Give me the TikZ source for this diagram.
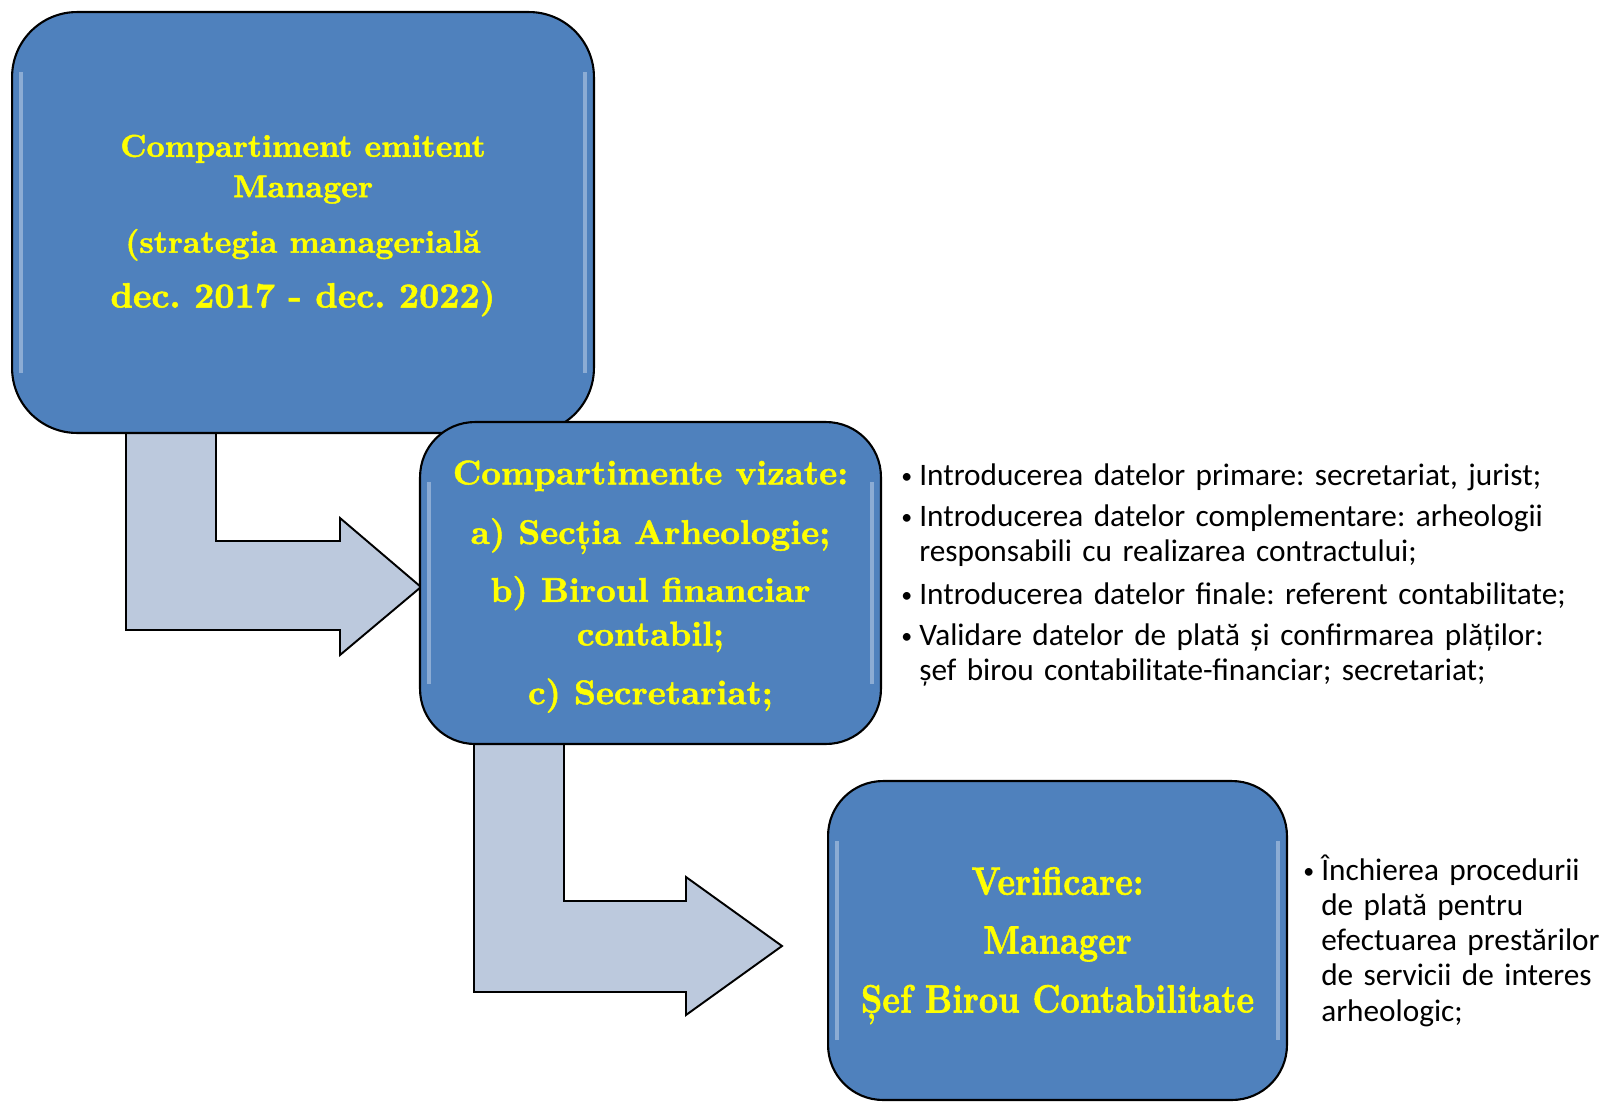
\documentclass[tikz,border=0pt]{standalone}
\usepackage{fontspec}
\usepackage{graphicx}
\newfontfamily\calib{Carlito}
\newfontfamily\heavy{lmroman10-bold.otf}[FakeBold=1.5]
\tikzset{>=latex}
\pgfdeclarelayer{background}
\pgfsetlayers{background,main}
\definecolor{boxblue}{HTML}{4F81BD}
\definecolor{arrowgray}{HTML}{BCC9DD}
\definecolor{txtyellow}{HTML}{FFFF00}
\frenchspacing
\newcommand{\cond}[1]{\scalebox{.85}[1]{#1}}
\newcommand{\bul}[1]{\par\noindent\makebox[10.2pt][l]{\raisebox{1.4pt}{\scalebox{.7}{•}}}\begin{tabular}[t]{@{}l@{}}#1\end{tabular}}

\begin{document}
\begin{tikzpicture}[x=0.02cm,y=-0.02cm]
      \tikzstyle{stagebox}=[draw=black,line width=1.2pt,fill=boxblue,text=txtyellow,align=center,
        path picture={\draw[white,opacity=.35,line width=2.5pt]
          ([shift={(5pt,-1.2cm)}]path picture bounding box.north west) --
          ([shift={(5pt,1.2cm)}]path picture bounding box.south west)
          ([shift={(-5pt,-1.2cm)}]path picture bounding box.north east) --
          ([shift={(-5pt,1.2cm)}]path picture bounding box.south east);}];
      \tikzstyle{bentarrow}=[draw=black,line width=1.1pt,fill=arrowgray,line join=miter];
      \tikzstyle{notes}=[anchor=north west,inner sep=0pt,align=left,text width=14cm,
        font=\calib\fontsize{17.8}{20}\selectfont];
      \useasboundingbox (0,0) rectangle (1615,1102);

      \node[stagebox,minimum width=11.64cm,minimum height=8.42cm,rounded corners=1.3cm,
        font=\heavy\fontsize{18}{23}\selectfont] (emitent) at (303,222.5)
        {\rule{0pt}{16pt}Compartiment emitent\\Manager\\[8.6pt](strategia managerială\\[8.2pt]{\fontsize{20}{23}\selectfont dec. 2017 - dec. 2022)}};
      \node[stagebox,minimum width=9.22cm,minimum height=6.44cm,rounded corners=1.1cm,
        font=\heavy\fontsize{19.5}{24.4}\selectfont] (vizate) at (650.5,583)
        {\rule{0pt}{17.7pt}Compartimente vizate:\\[9.5pt]a) Secția Arheologie;\\[8.5pt]b) Biroul financiar\\[0.5pt]contabil;\\[9pt]c) Secretariat;};
      \node[stagebox,minimum width=9.18cm,minimum height=6.38cm,rounded corners=1.1cm,
        font=\heavy\fontsize{22.5}{33.5}\selectfont] (verif) at (1057.5,940.5)
        {\rule{0pt}{21.6pt}\cond{Verificare:}\\\cond{Manager}\\\cond{Șef Birou Contabilitate}};

      \begin{pgfonlayer}{background}
        \draw[bentarrow] (126,400) -- (126,630) -- (340,630) -- (340,655)
          -- ([shift={(0.04cm,-0.08cm)}]vizate.west) -- (340,518) -- (340,541)
          -- (216,541) -- (216,400) -- cycle;
        \draw[bentarrow] (474,720) -- (474,992) -- (686,992) -- (686,1015)
          -- ([shift={(-0.9cm,-0.11cm)}]verif.west) -- (686,877) -- (686,901)
          -- (564,901) -- (564,720) -- cycle;
      \end{pgfonlayer}

      \node[notes] (tasks) at (901,444) {\parskip=3.4pt
        \bul{Introducerea datelor primare: secretariat, jurist;}
        \bul{Introducerea datelor complementare: arheologii\\responsabili cu realizarea contractului;}
        \bul{Introducerea datelor finale: referent contabilitate;}
        \bul{Validare datelor de plată și confirmarea plăților:\\șef birou contabilitate-financiar; secretariat;}};
      \node[notes,text width=6.2cm] (closing) at (1303,845) {
        \bul{Închierea procedurii\\de plată pentru\\efectuarea prestărilor\\de servicii de interes\\arheologic;}};
\end{tikzpicture}
\end{document}
